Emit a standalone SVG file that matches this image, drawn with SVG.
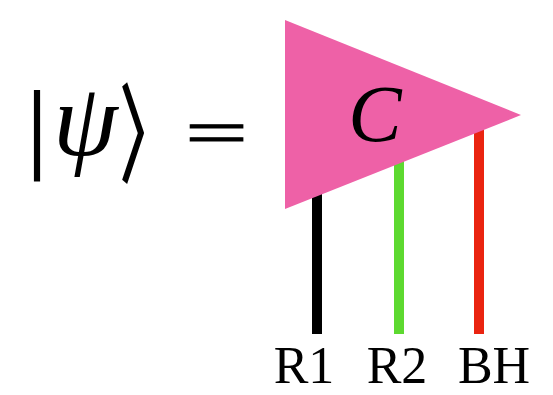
<svg xmlns="http://www.w3.org/2000/svg" width="553" height="395" viewBox="0 0 553 395">
<style>
.lbl{font-family:"Liberation Serif","DejaVu Serif",serif;fill:#000}
.wire{stroke-width:10;fill:none}
</style>
<rect width="553" height="395" fill="#fff"/>
<g id="lhs">
<text class="lbl" x="27" y="160" font-size="100" stroke="#000" stroke-width="1.2">|</text>
<text class="lbl" x="53" y="155" font-size="104" font-style="italic">ψ</text>
<g transform="translate(16 -8)">
<text x="132" y="135" font-size="100" font-family="Noto Sans CJK JP, sans-serif" text-anchor="middle" dominant-baseline="central" stroke="#000" stroke-width="3" transform="translate(132 135) scale(0.55 1.05) translate(-132 -135)">〉</text>
</g>
<text class="lbl" x="185" y="155" font-size="66" textLength="63" lengthAdjust="spacingAndGlyphs" stroke="#000" stroke-width="1">=</text>
</g>
<g id="connectors">
<line class="wire" x1="317" y1="180" x2="317" y2="334" stroke="#000"/>
<line class="wire" x1="399" y1="150" x2="399" y2="334" stroke="#5DD930"/>
<line class="wire" x1="479" y1="120" x2="479" y2="334" stroke="#EA2410"/>
</g>
<g id="C">
<polygon points="285,20 285,209 521,115" fill="#EE61A7"/>
<text class="lbl" x="375" y="141" font-size="80" font-style="italic" text-anchor="middle">C</text>
</g>
<g id="labels">
<text class="lbl" x="304" y="383" font-size="52" text-anchor="middle">R1</text>
<text class="lbl" x="397" y="383" font-size="52" text-anchor="middle">R2</text>
<text class="lbl" x="494" y="383" font-size="52" text-anchor="middle">BH</text>
</g>
</svg>
